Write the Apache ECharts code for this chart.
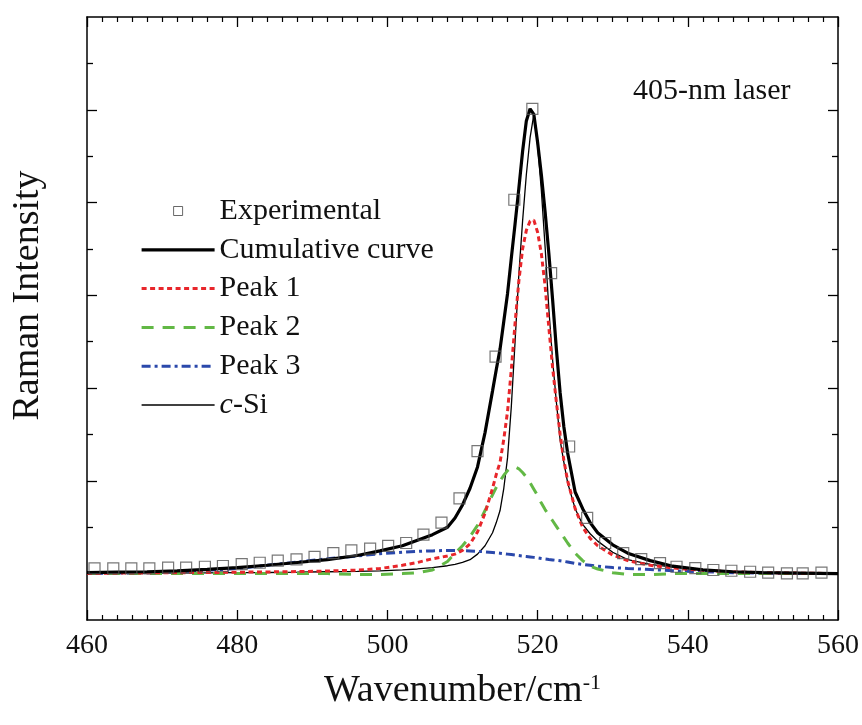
<!DOCTYPE html>
<html><head><meta charset="utf-8">
<script src="https://cdn.jsdelivr.net/npm/echarts@6/dist/echarts.min.js"></script>
<style>html,body{margin:0;padding:0;background:#fff}#c{width:862px;height:725px}</style>
</head><body><div id="c"></div>
<script>
// Experimental data points
const expX = [461.0, 463.5, 465.9, 468.3, 470.8, 473.2, 475.7, 478.1, 480.6, 483.0,
  485.4, 487.9, 490.3, 492.8, 495.2, 497.7, 500.1, 502.5, 504.8, 507.2,
  509.6, 512.0, 514.4, 516.9, 519.3, 521.8, 524.2, 526.6, 529.0, 531.4,
  533.8, 536.3, 538.5, 541.0, 543.4, 545.8, 548.3, 550.7, 553.2, 555.3, 557.8];
const expY = [0.057, 0.057, 0.057, 0.057, 0.064, 0.064, 0.074, 0.082, 0.103, 0.117,
  0.139, 0.154, 0.18, 0.22, 0.25, 0.27, 0.30, 0.33, 0.42, 0.55,
  0.81, 1.32, 2.34, 4.03, 5.01, 3.24, 1.37, 0.60, 0.33, 0.22,
  0.157, 0.114, 0.074, 0.06, 0.039, 0.031, 0.02, 0.01, 0.003, 0.003, 0.01];

// Fitted curves (sampled wavenumbers)
const curveX = [460, 464, 468, 472, 476, 480, 484, 488, 492, 496,
  499, 502, 504, 506, 508, 509, 510, 511, 512, 513,
  514, 514.5, 515, 515.5, 516, 516.5, 517, 517.5, 518, 518.5,
  519, 519.5, 520, 520.5, 521, 521.5, 522, 522.5, 523, 523.5,
  524, 525, 526, 527, 528, 530, 532, 535, 538, 542,
  546, 550, 555, 560];
const cumY = [0.01, 0.015, 0.02, 0.03, 0.045, 0.065, 0.09, 0.12, 0.15, 0.195,
  0.245, 0.30, 0.36, 0.42, 0.50, 0.60, 0.74, 0.92, 1.15, 1.52,
  1.97, 2.20, 2.42, 2.72, 3.02, 3.40, 3.77, 4.15, 4.55, 4.88,
  5.01, 4.95, 4.65, 4.30, 3.90, 3.45, 2.95, 2.42, 1.95, 1.58,
  1.30, 0.88, 0.70, 0.55, 0.44, 0.31, 0.22, 0.14, 0.08, 0.04,
  0.02, 0.01, 0.005, 0.0];
const peak1Y = [0.0, 0.005, 0.008, 0.01, 0.012, 0.015, 0.018, 0.022, 0.028, 0.038,
  0.055, 0.09, 0.12, 0.16, 0.19, 0.21, 0.25, 0.32, 0.45, 0.65,
  0.92, 1.07, 1.20, 1.45, 1.75, 2.20, 2.70, 3.15, 3.50, 3.70,
  3.80, 3.81, 3.68, 3.45, 3.10, 2.65, 2.22, 1.85, 1.50, 1.22,
  1.00, 0.70, 0.50, 0.38, 0.30, 0.20, 0.14, 0.09, 0.06, 0.035,
  0.02, 0.01, 0.005, 0.0];
const peak2Y = [0, 0, 0, 0, 0, 0, 0, 0, 0, -0.01,
  -0.01, 0.0, 0.01, 0.04, 0.13, 0.22, 0.30, 0.40, 0.52, 0.68,
  0.85, 0.93, 1.00, 1.06, 1.11, 1.14, 1.15, 1.13, 1.09, 1.04,
  0.98, 0.91, 0.84, 0.76, 0.69, 0.63, 0.57, 0.51, 0.45, 0.39,
  0.33, 0.22, 0.14, 0.08, 0.05, 0.01, -0.01, -0.01, 0.0, 0.0,
  0.0, 0.0, 0.0, 0.0];
const peak3Y = [0.0, 0.005, 0.01, 0.02, 0.035, 0.055, 0.09, 0.125, 0.16, 0.19,
  0.215, 0.23, 0.24, 0.245, 0.25, 0.25, 0.248, 0.245, 0.24, 0.235,
  0.228, 0.224, 0.22, 0.215, 0.21, 0.205, 0.20, 0.195, 0.19, 0.185,
  0.18, 0.175, 0.17, 0.163, 0.157, 0.152, 0.148, 0.143, 0.138, 0.132,
  0.125, 0.11, 0.10, 0.09, 0.08, 0.065, 0.055, 0.045, 0.03, 0.02,
  0.01, 0.005, 0.0, 0.0];
const cSiY = [0.0, 0.003, 0.005, 0.007, 0.008, 0.01, 0.012, 0.015, 0.02, 0.025,
  0.03, 0.04, 0.05, 0.065, 0.085, 0.10, 0.12, 0.15, 0.21, 0.30,
  0.44, 0.55, 0.68, 0.92, 1.25, 1.80, 2.50, 3.22, 3.80, 4.30,
  4.70, 4.95, 4.62, 4.13, 3.52, 2.85, 2.30, 1.85, 1.44, 1.20,
  0.98, 0.70, 0.53, 0.43, 0.35, 0.23, 0.15, 0.10, 0.07, 0.04,
  0.02, 0.01, 0.005, 0.0];

const yMajorTicks = [0, 1, 2, 3, 4, 5];
const yMinorTicks = [0.5, 1.5, 2.5, 3.5, 4.5, 5.5];
const seriesNames = ['Experimental', 'Cumulative curve', 'Peak 1', 'Peak 2', 'Peak 3', 'c-Si'];

const FONT = 'Liberation Serif';
const zip = (xs, ys) => xs.map((x, i) => [x, ys[i]]);
const axisLine = {show: true, onZero: false, lineStyle: {color: '#000', width: 1.5}};

const styles = {
  cum: {color: '#000', width: 3.2, type: 'solid'},
  p1: {color: '#e8262b', width: 3, type: [5, 3.5]},
  p2: {color: '#62b845', width: 3, type: [12, 9]},
  p3: {color: '#2a48ab', width: 3, type: [9, 4, 3, 4]},
  si: {color: '#000', width: 1.3, type: 'solid'}
};

function xAx(pos, labels) {
  const a = {
    type: 'value', min: 460, max: 560, interval: 20, position: pos,
    axisLine: axisLine,
    axisTick: {show: true, inside: true, length: 10, lineStyle: {color: '#000', width: 1.3}},
    minorTick: {show: true, splitNumber: 10, length: 5, lineStyle: {color: '#000', width: 1.2}},
    splitLine: {show: false}, minorSplitLine: {show: false},
    axisLabel: {show: labels, fontFamily: FONT, fontSize: 28, color: '#111', margin: 12}
  };
  if (labels) {
    a.name = '{a|Wavenumber/cm}{b|-1}';
    a.nameLocation = 'middle';
    a.nameGap = 52;
    a.nameTextStyle = {rich: {
      a: {fontFamily: FONT, fontSize: 38, color: '#111'},
      b: {fontFamily: FONT, fontSize: 22, color: '#111', verticalAlign: 'top'}
    }};
  }
  return a;
}
function yAx(pos, ticks, len, line, name) {
  const a = {
    type: 'value', min: -0.5, max: 6, position: pos,
    axisLine: line ? axisLine : {show: false, onZero: false},
    axisTick: {show: true, inside: true, length: len, customValues: ticks, lineStyle: {color: '#000', width: 1.3}},
    axisLabel: {show: false},
    splitLine: {show: false}
  };
  if (name) {
    a.name = name;
    a.nameLocation = 'middle';
    a.nameGap = 40;
    a.nameTextStyle = {fontFamily: FONT, fontSize: 38, color: '#111', padding: [0, 0, 0, 46]};
  }
  return a;
}

const hideSym = {opacity: 0};
const chart = echarts.init(document.getElementById('c'), null, {renderer: 'canvas'});
chart.setOption({
  animation: false,
  backgroundColor: '#fff',
  title: {text: '405-nm laser', left: 628, top: 71,
    textStyle: {fontFamily: FONT, fontSize: 30, fontWeight: 'normal', color: '#111'}},
  grid: {left: 87, right: 24, top: 17, bottom: 105},
  legend: {
    orient: 'vertical', left: 140, top: 196, padding: 0,
    itemWidth: 73, itemHeight: 9, itemGap: 8.8, selectedMode: false,
    textStyle: {fontFamily: FONT, fontSize: 30, color: '#111',
      rich: {i: {fontFamily: FONT, fontSize: 30, fontStyle: 'italic', color: '#111'}}},
    formatter: n => n === 'c-Si' ? '{i|c}-Si' : n,
    data: [
      {name: seriesNames[0], icon: 'path://M0,0H10V10H0Z',
        itemStyle: {color: 'rgba(0,0,0,0)', borderColor: '#444', borderWidth: 1}},
      {name: seriesNames[1], itemStyle: hideSym, lineStyle: styles.cum},
      {name: seriesNames[2], itemStyle: hideSym, lineStyle: styles.p1},
      {name: seriesNames[3], itemStyle: hideSym, lineStyle: styles.p2},
      {name: seriesNames[4], itemStyle: hideSym, lineStyle: styles.p3},
      {name: seriesNames[5], itemStyle: hideSym, lineStyle: styles.si}
    ]
  },
  xAxis: [xAx('bottom', true), xAx('top', false)],
  yAxis: [
    yAx('left', yMajorTicks, 10, true, 'Raman Intensity'),
    yAx('right', yMajorTicks, 10, true, null),
    yAx('left', yMinorTicks, 6, false, null),
    yAx('right', yMinorTicks, 6, false, null)
  ],
  series: [
    {name: seriesNames[5], type: 'line', data: zip(curveX, cSiY), symbol: 'none', z: 2,
      itemStyle: {color: '#000'}, lineStyle: styles.si},
    {name: seriesNames[4], type: 'line', data: zip(curveX, peak3Y), symbol: 'none', z: 2,
      itemStyle: {color: styles.p3.color}, lineStyle: styles.p3},
    {name: seriesNames[3], type: 'line', data: zip(curveX, peak2Y), symbol: 'none', z: 2,
      itemStyle: {color: styles.p2.color}, lineStyle: styles.p2},
    {name: seriesNames[2], type: 'line', data: zip(curveX, peak1Y), symbol: 'none', z: 2,
      itemStyle: {color: styles.p1.color}, lineStyle: styles.p1},
    {name: seriesNames[1], type: 'line', data: zip(curveX, cumY), symbol: 'none', z: 3,
      itemStyle: {color: '#000'}, lineStyle: styles.cum},
    {name: seriesNames[0], type: 'scatter', data: zip(expX, expY), symbol: 'rect', symbolSize: 11, z: 5,
      itemStyle: {color: 'rgba(0,0,0,0)', borderColor: '#555', borderWidth: 1.2}}
  ]
});
</script>
</body></html>
